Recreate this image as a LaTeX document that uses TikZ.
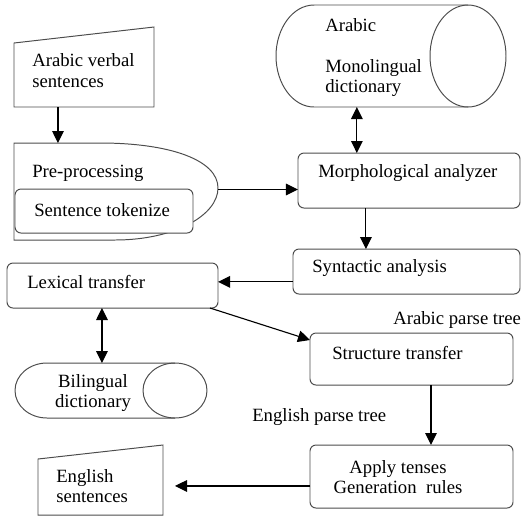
\documentclass[tikz,border=0pt]{standalone}
\usepackage{fontspec}
\setmainfont{Liberation Serif}
\usetikzlibrary{arrows.meta,calc}
\newcommand{\pxu}{0.025cm}
\begin{document}
\begin{tikzpicture}[x=\pxu,y=-\pxu,
    every node/.style={font=\fontsize{13.3pt}{14.8pt}\selectfont},
    slot/.style={inner sep=0,outer sep=0},
    procbox/.style={draw=black!70,line width=0.7pt,rounded corners=0.15cm,inner sep=0,outer sep=0},
    txt/.style={inner sep=0,anchor=west,align=left},
    outl/.style={draw=black!70,line width=0.7pt},
    arr/.style={-{Triangle[length=0.3cm,width=0.29cm]},line width=0.8pt},
    dblarr/.style={{Triangle[length=0.3cm,width=0.29cm]}-{Triangle[length=0.3cm,width=0.29cm]},line width=0.8pt}]
  \useasboundingbox (0,0) rectangle (521,516);

  \node[slot,minimum width=140*\pxu,minimum height=80*\pxu] (src) at (84,67) {};
  \draw[outl] (src.south west) -- (src.south east) -- (src.north east) -- ([yshift=-0.4cm]src.north west) -- cycle;
  \node[txt] (srctxt) at (32,71) {Arabic verbal\\sentences};

  \node[slot,minimum width=204*\pxu,minimum height=93*\pxu] (pre) at (116,189.5) {};
  \draw[outl] (14,240) -- (14,143) -- (100,143) .. controls (170,143) and (218,160) .. (218,188)
    .. controls (218,215) and (175,240) .. (115,240) -- cycle;
  \node[txt] (pretxt) at (32,173) {Pre-processing};
  \node[procbox,fill=white,minimum width=178*\pxu,minimum height=44*\pxu] (tok) at (104,211) {};
  \node[txt] (toktxt) at (34,210) {Sentence tokenize};

  \node[slot,minimum width=231*\pxu,minimum height=102*\pxu] (mono) at (391.5,56) {};
  \draw[outl] (468,5) -- (314,5) .. controls (293,5) and (276,28) .. (276,56)
    .. controls (276,84) and (293,107) .. (314,107) -- (468,107);
  \draw[outl] (468,56) ellipse [x radius=38,y radius=51];
  \node[txt] (monotxt) at (325,25) {Arabic};
  \node[txt] (monotxtb) at (325,78) {Monolingual\\dictionary};

  \node[procbox,minimum width=222*\pxu,minimum height=55*\pxu] (morph) at (409,180.5) {};
  \node[txt] (morphtxt) at (318,173) {Morphological analyzer};

  \node[procbox,minimum width=227*\pxu,minimum height=45*\pxu] (syn) at (406.5,271.5) {};
  \node[txt] (syntxt) at (312,268) {Syntactic analysis};

  \node[procbox,minimum width=211*\pxu,minimum height=45*\pxu] (lex) at (112.5,285.5) {};
  \node[txt] (lextxt) at (27,282) {Lexical transfer};

  \node[slot,minimum width=192*\pxu,minimum height=55*\pxu] (bil) at (111,390.5) {};
  \draw[outl] (175,363) -- (47,363) .. controls (29.3,363) and (15,375.3) .. (15,390.5)
    .. controls (15,405.7) and (29.3,418) .. (47,418) -- (175,418);
  \draw[outl] (175,390.5) ellipse [x radius=32,y radius=27.5];
  \node[inner sep=0,align=center] (biltxt) at (93,393) {Bilingual\\dictionary};

  \node[txt] (arptree) at (393,320) {Arabic parse tree};
  \node[procbox,minimum width=203*\pxu,minimum height=52*\pxu] (struct) at (411.5,359) {};
  \node[txt] (structtxt) at (332,353) {Structure transfer};

  \node[txt] (enptree) at (252,417) {English parse tree};
  \node[procbox,minimum width=203*\pxu,minimum height=63*\pxu] (apply) at (411.5,476.5) {};
  \node[inner sep=0,align=center] (applytxt) at (398,477) {Apply tenses\\Generation~ rules};

  \node[slot,minimum width=125*\pxu,minimum height=70*\pxu] (eng) at (100.5,480) {};
  \draw[outl] (eng.south west) -- (eng.south east) -- (eng.north east) -- ([yshift=-0.35cm]eng.north west) -- cycle;
  \node[txt] (engtxt) at (56,486) {English\\sentences};

  \coordinate (srcout) at ($(src.south west)!0.314!(src.south east)$);
  \draw[arr] (srcout) -- (srcout |- pre.north);
  \coordinate (monoout) at ($(mono.south west)!0.35!(mono.south east)$);
  \draw[dblarr] (monoout) -- (monoout |- morph.north);
  \draw[arr] (pre.east) -- (pre.east -| morph.west);
  \coordinate (morphout) at ($(morph.south west)!0.306!(morph.south east)$);
  \draw[arr] (morphout) -- (morphout |- syn.north);
  \coordinate (synout) at ($(syn.south west)!0.27!(syn.north west)$);
  \draw[arr] (synout) -- (synout -| lex.east);
  \coordinate (lexout) at ($(lex.south west)!0.45!(lex.south east)$);
  \draw[dblarr] (lexout) -- (lexout |- bil.north);
  \coordinate (lexdiag) at ($(lex.south west)!0.962!(lex.south east)$);
  \coordinate (structin) at ($(struct.north west)!0.135!(struct.south west)$);
  \draw[arr] (lexdiag) -- (structin);
  \coordinate (structout) at ($(struct.south west)!0.596!(struct.south east)$);
  \draw[arr] (structout) -- (structout |- apply.north);
  \coordinate (applyout) at ($(apply.north west)!0.65!(apply.south west)$);
  \draw[arr,shorten >=0.3cm] (applyout) -- (applyout -| eng.east);
\end{tikzpicture}
\end{document}
